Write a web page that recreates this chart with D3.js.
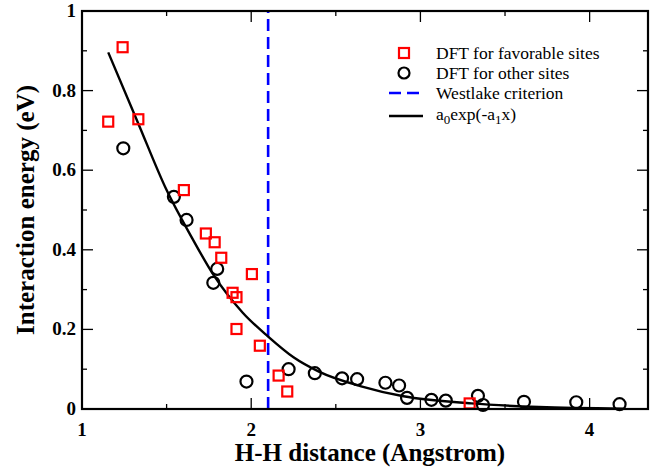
<!DOCTYPE html>
<html>
<head>
<meta charset="utf-8">
<script src="https://cdn.jsdelivr.net/npm/d3@7"></script>
<style>
  body { margin: 0; background: #fff; }
  text { font-family: "Liberation Serif", "Times New Roman", serif; }
</style>
</head>
<body>
<div id="chart"></div>
<script>
// DFT for favorable sites
var favX = [1.155, 1.240, 1.333, 1.602, 1.732, 1.784, 1.823, 2.004, 1.890, 1.913, 1.913, 2.051, 2.162, 2.213, 3.291];
var favY = [0.722, 0.909, 0.728, 0.550, 0.441, 0.419, 0.380, 0.339, 0.292, 0.281, 0.201, 0.159, 0.084, 0.044, 0.014];
// DFT for other sites
var othX = [1.244, 1.543, 1.618, 1.799, 1.776, 1.972, 2.221, 2.376, 2.537, 2.626, 2.793, 2.874, 2.921, 3.065, 3.150, 3.340, 3.370, 3.612, 3.921, 4.177];
var othY = [0.655, 0.533, 0.475, 0.352, 0.317, 0.069, 0.100, 0.090, 0.077, 0.075, 0.066, 0.059, 0.028, 0.023, 0.021, 0.033, 0.010, 0.018, 0.017, 0.012];
// fitted curve a0 exp(-a1 x)
var fitX = [1.155, 1.33, 1.5, 1.65, 1.78, 1.95, 2.1, 2.25, 2.4, 2.65, 2.9, 3.3, 3.7, 4.2];
var fitY = [0.896, 0.72, 0.55, 0.43, 0.335, 0.242, 0.182, 0.13, 0.094, 0.057, 0.032, 0.014, 0.005, 0.001];
// Westlake criterion
var westlakeX = 2.1;

var xTicks = [1, 2, 3, 4];
var xMinor = [1.5, 2.5, 3.5];
var yTicks = [0, 0.2, 0.4, 0.6, 0.8, 1];
var yMinor = [0.1, 0.3, 0.5, 0.7, 0.9];

var width = 657, height = 468;
var margin = {left: 82, top: 11, right: 9, bottom: 59};

var svg = d3.select("#chart").append("svg")
    .attr("width", width)
    .attr("height", height);

var x = d3.scaleLinear().domain([1, 4.345]).range([margin.left, width - margin.right]);
var y = d3.scaleLinear().domain([0, 1]).range([height - margin.bottom, margin.top]);

var x0 = x.range()[0], x1 = x.range()[1];
var y0 = y.range()[0], y1 = y.range()[1];

// ticks on all four sides, pointing inward
var tickG = svg.append("g").attr("stroke", "#000").attr("stroke-width", 1.3);
function tickLines(vals, len, horiz) {
    vals.forEach(function(v) {
        if (horiz) {
            tickG.append("line").attr("x1", x(v)).attr("x2", x(v)).attr("y1", y0).attr("y2", y0 - len);
            tickG.append("line").attr("x1", x(v)).attr("x2", x(v)).attr("y1", y1).attr("y2", y1 + len);
        } else {
            tickG.append("line").attr("y1", y(v)).attr("y2", y(v)).attr("x1", x0).attr("x2", x0 + len);
            tickG.append("line").attr("y1", y(v)).attr("y2", y(v)).attr("x1", x1).attr("x2", x1 - len);
        }
    });
}
tickLines(xTicks, 11, true);
tickLines(xMinor, 5, true);
tickLines(yTicks, 11, false);
tickLines(yMinor, 5, false);

// tick labels
svg.append("g").selectAll("text")
    .data(xTicks)
    .enter()
    .append("text")
    .attr("x", function(d){return x(d);})
    .attr("y", y0 + 27)
    .attr("text-anchor", "middle")
    .attr("font-size", 19)
    .attr("font-weight", "bold")
    .text(function(d){return d;});

svg.append("g").selectAll("text")
    .data(yTicks)
    .enter()
    .append("text")
    .attr("x", x0 - 6)
    .attr("y", function(d){return y(d) + 6;})
    .attr("text-anchor", "end")
    .attr("font-size", 19)
    .attr("font-weight", "bold")
    .text(function(d){return d;});

// axis titles
svg.append("text")
    .attr("x", 370)
    .attr("y", 461)
    .attr("text-anchor", "middle")
    .attr("font-size", 25)
    .attr("font-weight", "bold")
    .text("H-H distance (Angstrom)");

svg.append("text")
    .attr("transform", "translate(34," + ((y0 + y1) / 2) + ") rotate(-90)")
    .attr("text-anchor", "middle")
    .attr("font-size", 25)
    .attr("font-weight", "bold")
    .text("Interaction energy (eV)");

// Westlake line
svg.append("line")
    .attr("x1", x(westlakeX)).attr("x2", x(westlakeX))
    .attr("y1", y(0)).attr("y2", y(1))
    .attr("stroke", "#0000ff")
    .attr("stroke-width", 2.6)
    .attr("stroke-dasharray", "12,6");

// fit curve
var fitData = fitX.map(function(d, i){return [d, fitY[i]];});
svg.append("path")
    .datum(fitData)
    .attr("fill", "none")
    .attr("stroke", "#000")
    .attr("stroke-width", 2.4)
    .attr("d", d3.line()
        .x(function(d){return x(d[0]);})
        .y(function(d){return y(d[1]);})
        .curve(d3.curveMonotoneX));

// other sites (circles)
svg.append("g").selectAll("circle")
    .data(othX.map(function(d, i){return [d, othY[i]];}))
    .enter()
    .append("circle")
    .attr("cx", function(d){return x(d[0]);})
    .attr("cy", function(d){return y(d[1]);})
    .attr("r", 6)
    .attr("fill", "none")
    .attr("stroke", "#000")
    .attr("stroke-width", 2.2);

// favorable sites (squares)
var sq = 10;
svg.append("g").selectAll("rect")
    .data(favX.map(function(d, i){return [d, favY[i]];}))
    .enter()
    .append("rect")
    .attr("x", function(d){return x(d[0]) - sq / 2;})
    .attr("y", function(d){return y(d[1]) - sq / 2;})
    .attr("width", sq)
    .attr("height", sq)
    .attr("fill", "none")
    .attr("stroke", "#ff0000")
    .attr("stroke-width", 2.2);

// frame
svg.append("rect")
    .attr("x", x0).attr("y", y1)
    .attr("width", x1 - x0).attr("height", y0 - y1)
    .attr("fill", "none")
    .attr("stroke", "#000")
    .attr("stroke-width", 2.2);

// legend
var leg = svg.append("g").attr("font-size", 17.5);
var lx = 404, tx = 436;
var rows = [53, 73, 93, 114];
leg.append("rect").attr("x", lx - 5).attr("y", rows[0] - 5).attr("width", 10).attr("height", 10)
    .attr("fill", "none").attr("stroke", "#ff0000").attr("stroke-width", 2.2);
leg.append("circle").attr("cx", lx).attr("cy", rows[1]).attr("r", 5.5)
    .attr("fill", "none").attr("stroke", "#000").attr("stroke-width", 2.2);
leg.append("line").attr("x1", lx - 15).attr("x2", lx + 19).attr("y1", rows[2]).attr("y2", rows[2])
    .attr("stroke", "#0000ff").attr("stroke-width", 2.6).attr("stroke-dasharray", "12,6");
leg.append("line").attr("x1", lx - 15).attr("x2", lx + 19).attr("y1", rows[3] + 2).attr("y2", rows[3] + 2)
    .attr("stroke", "#000").attr("stroke-width", 2.4);

var legText = ["DFT for favorable sites", "DFT for other sites", "Westlake criterion"];
legText.forEach(function(t, i) {
    leg.append("text").attr("x", tx).attr("y", rows[i] + 6).text(t);
});
var ft = leg.append("text").attr("x", tx).attr("y", rows[3] + 6);
ft.append("tspan").text("a");
ft.append("tspan").attr("dy", 4).attr("font-size", 13).text("0");
ft.append("tspan").attr("dy", -4).text("exp(-a");
ft.append("tspan").attr("dy", 4).attr("font-size", 13).text("1");
ft.append("tspan").attr("dy", -4).text("x)");
</script>
</body>
</html>
